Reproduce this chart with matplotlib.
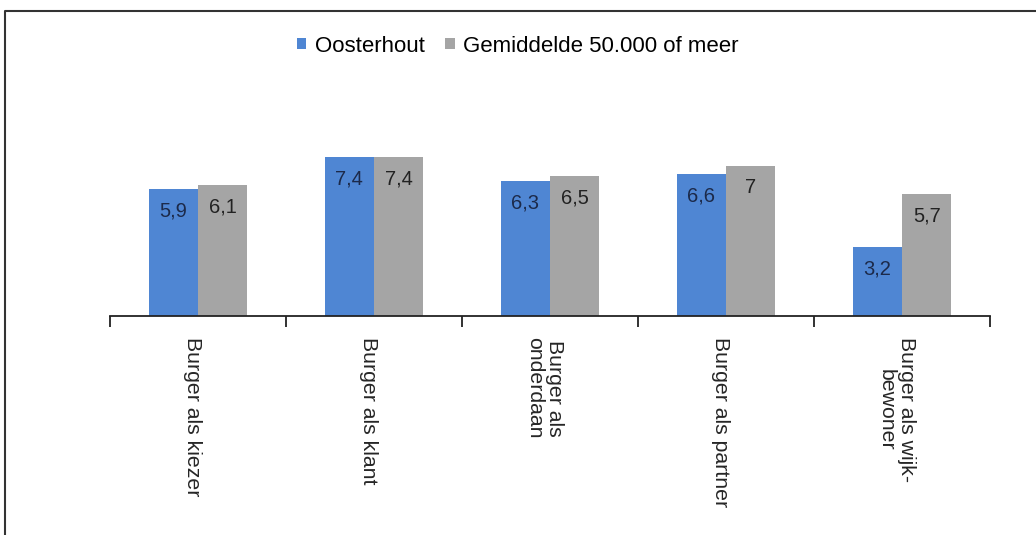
import numpy as np
import matplotlib.pyplot as plt
from matplotlib.lines import Line2D

# Data
categories = ['Burger als kiezer', 'Burger als klant', 'Burger als\nonderdaan',
              'Burger als partner', 'Burger als wijk-\nbewoner']
oosterhout = [5.9, 7.4, 6.3, 6.6, 3.2]
gemiddelde = [6.1, 7.4, 6.5, 7.0, 5.7]
series_names = ['Oosterhout', 'Gemiddelde 50.000 of meer']

plt.rcParams['font.family'] = ['Liberation Sans', 'DejaVu Sans']

fig = plt.figure(figsize=(10.36, 5.35), dpi=100)
ax = fig.add_axes([110 / 1036, 1 - 316 / 535, 880 / 1036, 217 / 535])

x = np.arange(len(categories))
w = 0.28
b1 = ax.bar(x - w / 2, oosterhout, w, color='#4F86D3', label=series_names[0])
b2 = ax.bar(x + w / 2, gemiddelde, w, color='#A5A5A5', label=series_names[1])


def fmt(v):
    return ('%g' % v).replace('.', ',')


for bars, vals, col in [(b1, oosterhout, '#1C2A4A'), (b2, gemiddelde, '#222222')]:
    for rect, v in zip(bars, vals):
        ax.annotate(fmt(v), (rect.get_x() + rect.get_width() / 2, v),
                    xytext=(0, -9), textcoords='offset points',
                    ha='center', va='top', fontsize=14.5, color=col)

ax.set_xlim(-0.5, len(categories) - 0.5)
ax.set_ylim(0, 10.1)
ax.set_yticks([])
for side in ['left', 'right', 'top']:
    ax.spines[side].set_visible(False)
ax.spines['bottom'].set_linewidth(1.3)
ax.spines['bottom'].set_color('#222222')

# category boundaries as ticks, labels at centres
ax.set_xticks(np.arange(-0.5, len(categories)))
ax.set_xticklabels([])
ax.tick_params(axis='x', direction='out', length=8, width=1.3, color='#222222')
for xi, lab in zip(x, categories):
    ax.text(xi - 0.03, -1.0, lab, rotation=-90, ha='center', va='top',
            multialignment='center', fontsize=15.3, color='#262626',
            clip_on=False, linespacing=1.1)

ax.legend(loc='upper center', bbox_to_anchor=(0.5, 1.0), bbox_transform=fig.transFigure,
          ncol=2, frameon=False, fontsize=16, handlelength=0.42, handleheight=0.42,
          handletextpad=0.4, columnspacing=0.9, borderaxespad=1.2)

# outer chart border (only top and left visible)
fig.add_artist(Line2D([4.5 / 1036, 4.5 / 1036, 1], [0, 1 - 11 / 535, 1 - 11 / 535],
                      transform=fig.transFigure, color='#333333', linewidth=1.5))

fig.savefig('out.png', dpi=100)
